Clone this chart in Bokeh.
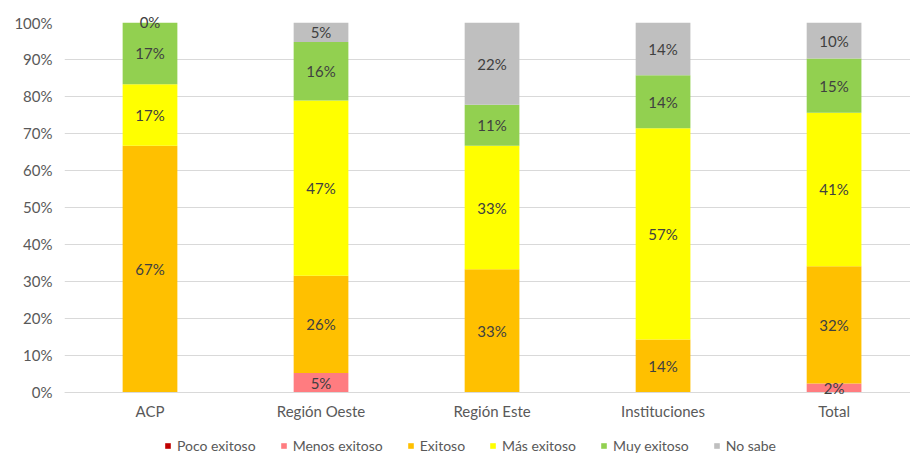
from bokeh.plotting import figure
from bokeh.models import ColumnDataSource, Range1d, FixedTicker, Legend, LegendItem
from bokeh.embed import file_html
from bokeh.resources import INLINE
from bokeh.core.properties import value

categories = ["ACP", "Región Oeste", "Región Este", "Instituciones", "Total"]
series = ["Poco exitoso", "Menos exitoso", "Exitoso", "Más exitoso", "Muy exitoso", "No sabe"]
poco_exitoso = [0, 0, 0, 0, 0]
menos_exitoso = [0, 5.26, 0, 0, 2.44]
exitoso = [66.67, 26.32, 33.33, 14.29, 31.71]
mas_exitoso = [16.67, 47.37, 33.33, 57.14, 41.46]
muy_exitoso = [16.67, 15.79, 11.11, 14.29, 14.63]
no_sabe = [0, 5.26, 22.22, 14.29, 9.76]
colors = ["#C00000", "#FF7C80", "#FFC000", "#FFFF00", "#92D050", "#BFBFBF"]
y_ticks = [0, 10, 20, 30, 40, 50, 60, 70, 80, 90, 100]

values = [poco_exitoso, menos_exitoso, exitoso, mas_exitoso, muy_exitoso, no_sabe]
xs = list(range(len(categories)))
data = {"x": xs}
for name, vals in zip(series, values):
    data[name] = vals
source = ColumnDataSource(data)

FONT = "Lato"
# frame spans the full height; the category axis is pinned at y = 0 inside it
p = figure(width=910, height=454, output_backend="svg", toolbar_location=None,
           x_range=Range1d(-0.5, 4.447), y_range=Range1d(-16.76, 100),
           min_border_left=64, min_border_top=22, min_border_right=0, min_border_bottom=0)
p.outline_line_color = None

renderers = p.vbar_stack(series, x="x", width=0.32, source=source, color=colors, line_color=None)

# data labels
lx, ly, lt = [], [], []
for i in xs:
    base = 0
    for k, vals in enumerate(values):
        v = vals[i]
        show = v > 0 or (k == len(values) - 1 and i == 0)
        if show and k > 0:
            lx.append(i)
            ly.append(base + v / 2)
            lt.append(f"{round(v):.0f}%")
        base += v
p.text(x=lx, y=ly, text=lt, text_align="center", text_baseline="middle",
       text_font=value(FONT), text_font_size="15px", text_color="#404040", level="overlay")

p.xaxis.fixed_location = 0
p.xaxis.ticker = FixedTicker(ticks=xs)
p.xaxis.major_label_overrides = {i: c for i, c in enumerate(categories)}
p.xaxis.major_tick_line_color = None
p.xaxis.major_tick_out = 0
p.xaxis.major_tick_in = 0
p.xaxis.minor_tick_line_color = None
p.xaxis.axis_line_color = "#D9D9D9"
p.xaxis.major_label_text_font = FONT
p.xaxis.major_label_text_font_size = "15px"
p.xaxis.major_label_text_color = "#595959"
p.xaxis.major_label_standoff = 10

p.yaxis.ticker = FixedTicker(ticks=y_ticks)
p.yaxis.major_label_overrides = {t: f"{t}%" for t in y_ticks}
p.yaxis.major_tick_line_color = None
p.yaxis.major_tick_out = 0
p.yaxis.major_tick_in = 0
p.yaxis.minor_tick_line_color = None
p.yaxis.axis_line_color = None
p.yaxis.major_label_text_font = FONT
p.yaxis.major_label_text_font_size = "15px"
p.yaxis.major_label_text_color = "#595959"
p.yaxis.major_label_standoff = 12

p.xgrid.grid_line_color = None
p.ygrid.ticker = FixedTicker(ticks=y_ticks)
p.ygrid.grid_line_color = "#D9D9D9"

legend = Legend(items=[LegendItem(label=s, renderers=[r]) for s, r in zip(series, renderers)],
                orientation="horizontal", location=(100, 0),
                label_text_font=FONT, label_text_font_size="14px", label_text_color="#595959",
                glyph_width=7, glyph_height=7, label_standoff=6, spacing=24, label_height=16,
                border_line_color=None, background_fill_alpha=0, padding=0, margin=0)
p.add_layout(legend, "center")

open("out.html", "w").write(file_html(p, INLINE))
